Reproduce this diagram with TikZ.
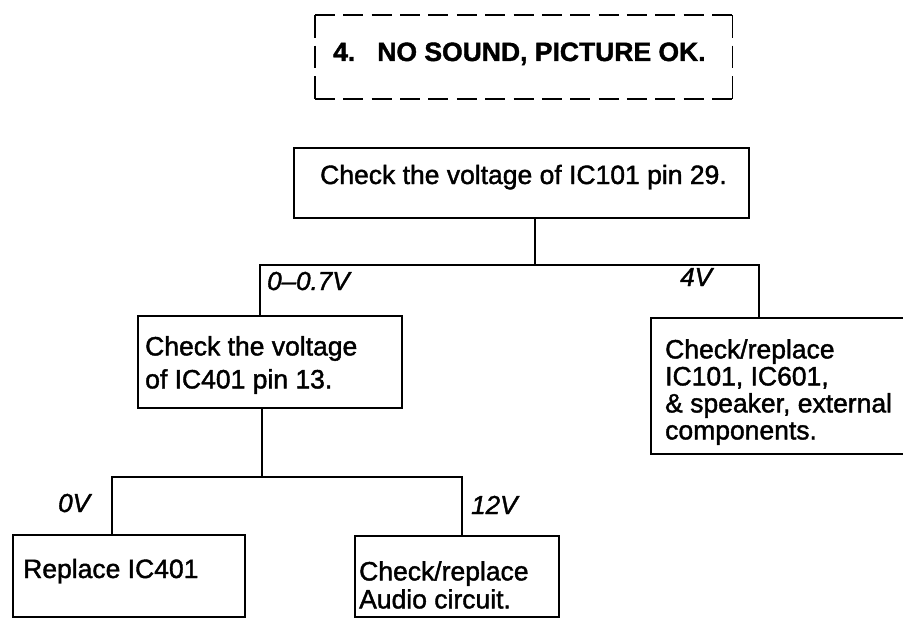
\documentclass[tikz,border=0pt]{standalone}
\usepackage{fontspec}
\setmainfont{Liberation Sans}[FakeBold=1.5]
\begin{document}
\begin{tikzpicture}[x=1pt,y=-1pt,
  box/.style={draw, line width=1.8pt, rectangle, inner sep=0pt, anchor=north west},
  titlebox/.style={rectangle, inner sep=0pt, anchor=north west},
  edge/.style={line width=1.8pt},
  txt/.style={inner sep=0pt, font=\fontsize{26.5}{30}\selectfont, align=left, anchor=north west},
  ttl/.style={inner sep=0pt, font=\fontsize{26.5}{30}\selectfont\bfseries, anchor=base west},
  lbl/.style={inner sep=0pt, font=\fontsize{26}{30}\selectfont\itshape, anchor=base west},
  wire/.style={line width=1.8pt}]
\useasboundingbox (0,0) rectangle (903,618);
% title box (dashed, solid corners)
\node[titlebox, minimum width=417pt, minimum height=84pt] (title) at (315,15) {};
\draw[edge, dash pattern=on 20pt off 8.36pt] (title.north west) -- (title.north east);
\draw[edge, dash pattern=on 20pt off 8.36pt] (title.south west) -- (title.south east);
\draw[edge, dash pattern=on 22.67pt off 8pt] (title.north west) -- (title.south west);
\draw[edge, dash pattern=on 22.67pt off 8pt] (title.north east) -- (title.south east);
% boxes
\node[box, minimum width=455pt, minimum height=70pt] (top) at (293,147) {};
\node[box, minimum width=264pt, minimum height=92pt] (mid) at (137,315) {};
\node[box, minimum width=280pt, minimum height=136pt] (right) at (650,317) {};
\node[box, minimum width=232pt, minimum height=82pt] (rep) at (12,534) {};
\node[box, minimum width=204pt, minimum height=81pt] (aud) at (354,535) {};
% texts
\node[ttl] (ttltxt) at (333,61) {4.\hspace{22pt}NO SOUND, PICTURE OK.};
\node[txt, anchor=base west] (toptxt) at (320,184) {Check the voltage of IC101 pin 29.};
\node[txt, font=\fontsize{26.5}{33}\selectfont] (midtxt) at (145,336) {Check the voltage\\of IC401 pin 13.};
\node[txt, font=\fontsize{26.5}{27}\selectfont] (righttxt) at (665,339) {Check/replace\\IC101, IC601,\\\& speaker, external\\components.};
\node[txt, anchor=base west] (reptxt) at (23,578) {Replace IC401};
\node[txt, font=\fontsize{26.5}{28}\selectfont] (audtxt) at (359,561) {Check/replace\\Audio circuit.};
% labels
\node[lbl] (l1) at (267,290) {0--0.7V};
\node[lbl] (l2) at (680,286) {4V};
\node[lbl] (l3) at (58,512) {0V};
\node[lbl] (l4) at (471,514) {12V};
% junctions
\coordinate (b0) at (535,265);
\coordinate (b1) at (260,265);
\coordinate (b2) at (759,265);
\coordinate (c0) at (262,477);
\coordinate (c1) at (112,477);
\coordinate (c2) at (462,477);
% connectors
\draw[wire] (top.south -| b0) -- (b0);
\draw[wire] (mid.north -| b1) -- (b1) -- (b2) -- (right.north -| b2);
\draw[wire] (mid.south -| c0) -- (c0);
\draw[wire] (rep.north -| c1) -- (c1) -- (c2) -- (aud.north -| c2);
\end{tikzpicture}
\end{document}
